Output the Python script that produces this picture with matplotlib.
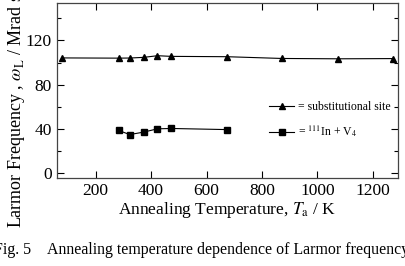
import matplotlib
matplotlib.use("Agg")
import matplotlib.pyplot as plt
from matplotlib.ticker import MultipleLocator

plt.rcParams['font.family'] = ['Liberation Serif', 'DejaVu Serif']
plt.rcParams['mathtext.fontset'] = 'stix'

# substitutional site
T_sub = [77, 283, 323, 373, 423, 473, 673, 873, 1073, 1273]
w_sub = [104.2, 104.0, 104.1, 104.7, 106.2, 105.6, 105.3, 103.7, 103.4, 103.6]

# 111In + V4
T_v4 = [283, 323, 373, 423, 473, 673]
w_v4 = [38.5, 34.8, 37.0, 40.0, 40.3, 39.3]

fig = plt.figure(figsize=(4.06, 2.66), dpi=100)
ax = fig.add_axes([0.140, 0.331, 0.840, 0.658])

ax.plot(T_sub, w_sub, color="black", lw=0.8, marker="^", ms=4.5,
        label="= substitutional site")
ax.plot(T_v4, w_v4, color="black", lw=0.8, marker="s", ms=4.5,
        label="= $^{111}$In + V$_4$")

ax.set_xlim(60, 1290)
ax.set_ylim(-4.5, 154)
ax.xaxis.set_major_locator(MultipleLocator(200))
ax.yaxis.set_major_locator(MultipleLocator(40))
ax.yaxis.set_minor_locator(MultipleLocator(20))
ax.tick_params(which="both", direction="in", top=True, right=True,
               labelsize=12.5, width=0.8)
ax.tick_params(which="major", length=5)
ax.tick_params(which="minor", length=3)
for s in ax.spines.values():
    s.set_linewidth(0.9)
    s.set_color("#444444")

ax.set_xlabel("Annealing Temperature, $T_\\mathrm{a}$ / K", fontsize=12.5,
              labelpad=1)
fig.text(0.044, 0.143, "Larmor Frequency , $\\omega_\\mathrm{L}$ / Mrad s$^{-1}$",
         fontsize=13, rotation=90, ha="center", va="bottom")

ax.legend(loc="center right", bbox_to_anchor=(1.01, 0.33), frameon=False,
          fontsize=8.5, handlelength=2.2, handletextpad=0.3, labelspacing=0.9)

# caption, cut off at both sides as in the source
fig.text(0.076, 0.03, "Fig. 5", fontsize=11.5, ha="right", va="bottom")
fig.text(0.116, 0.03, "Annealing temperature dependence of Larmor frequency",
         fontsize=11.4, ha="left", va="bottom")

fig.savefig("out.png", dpi=100)
